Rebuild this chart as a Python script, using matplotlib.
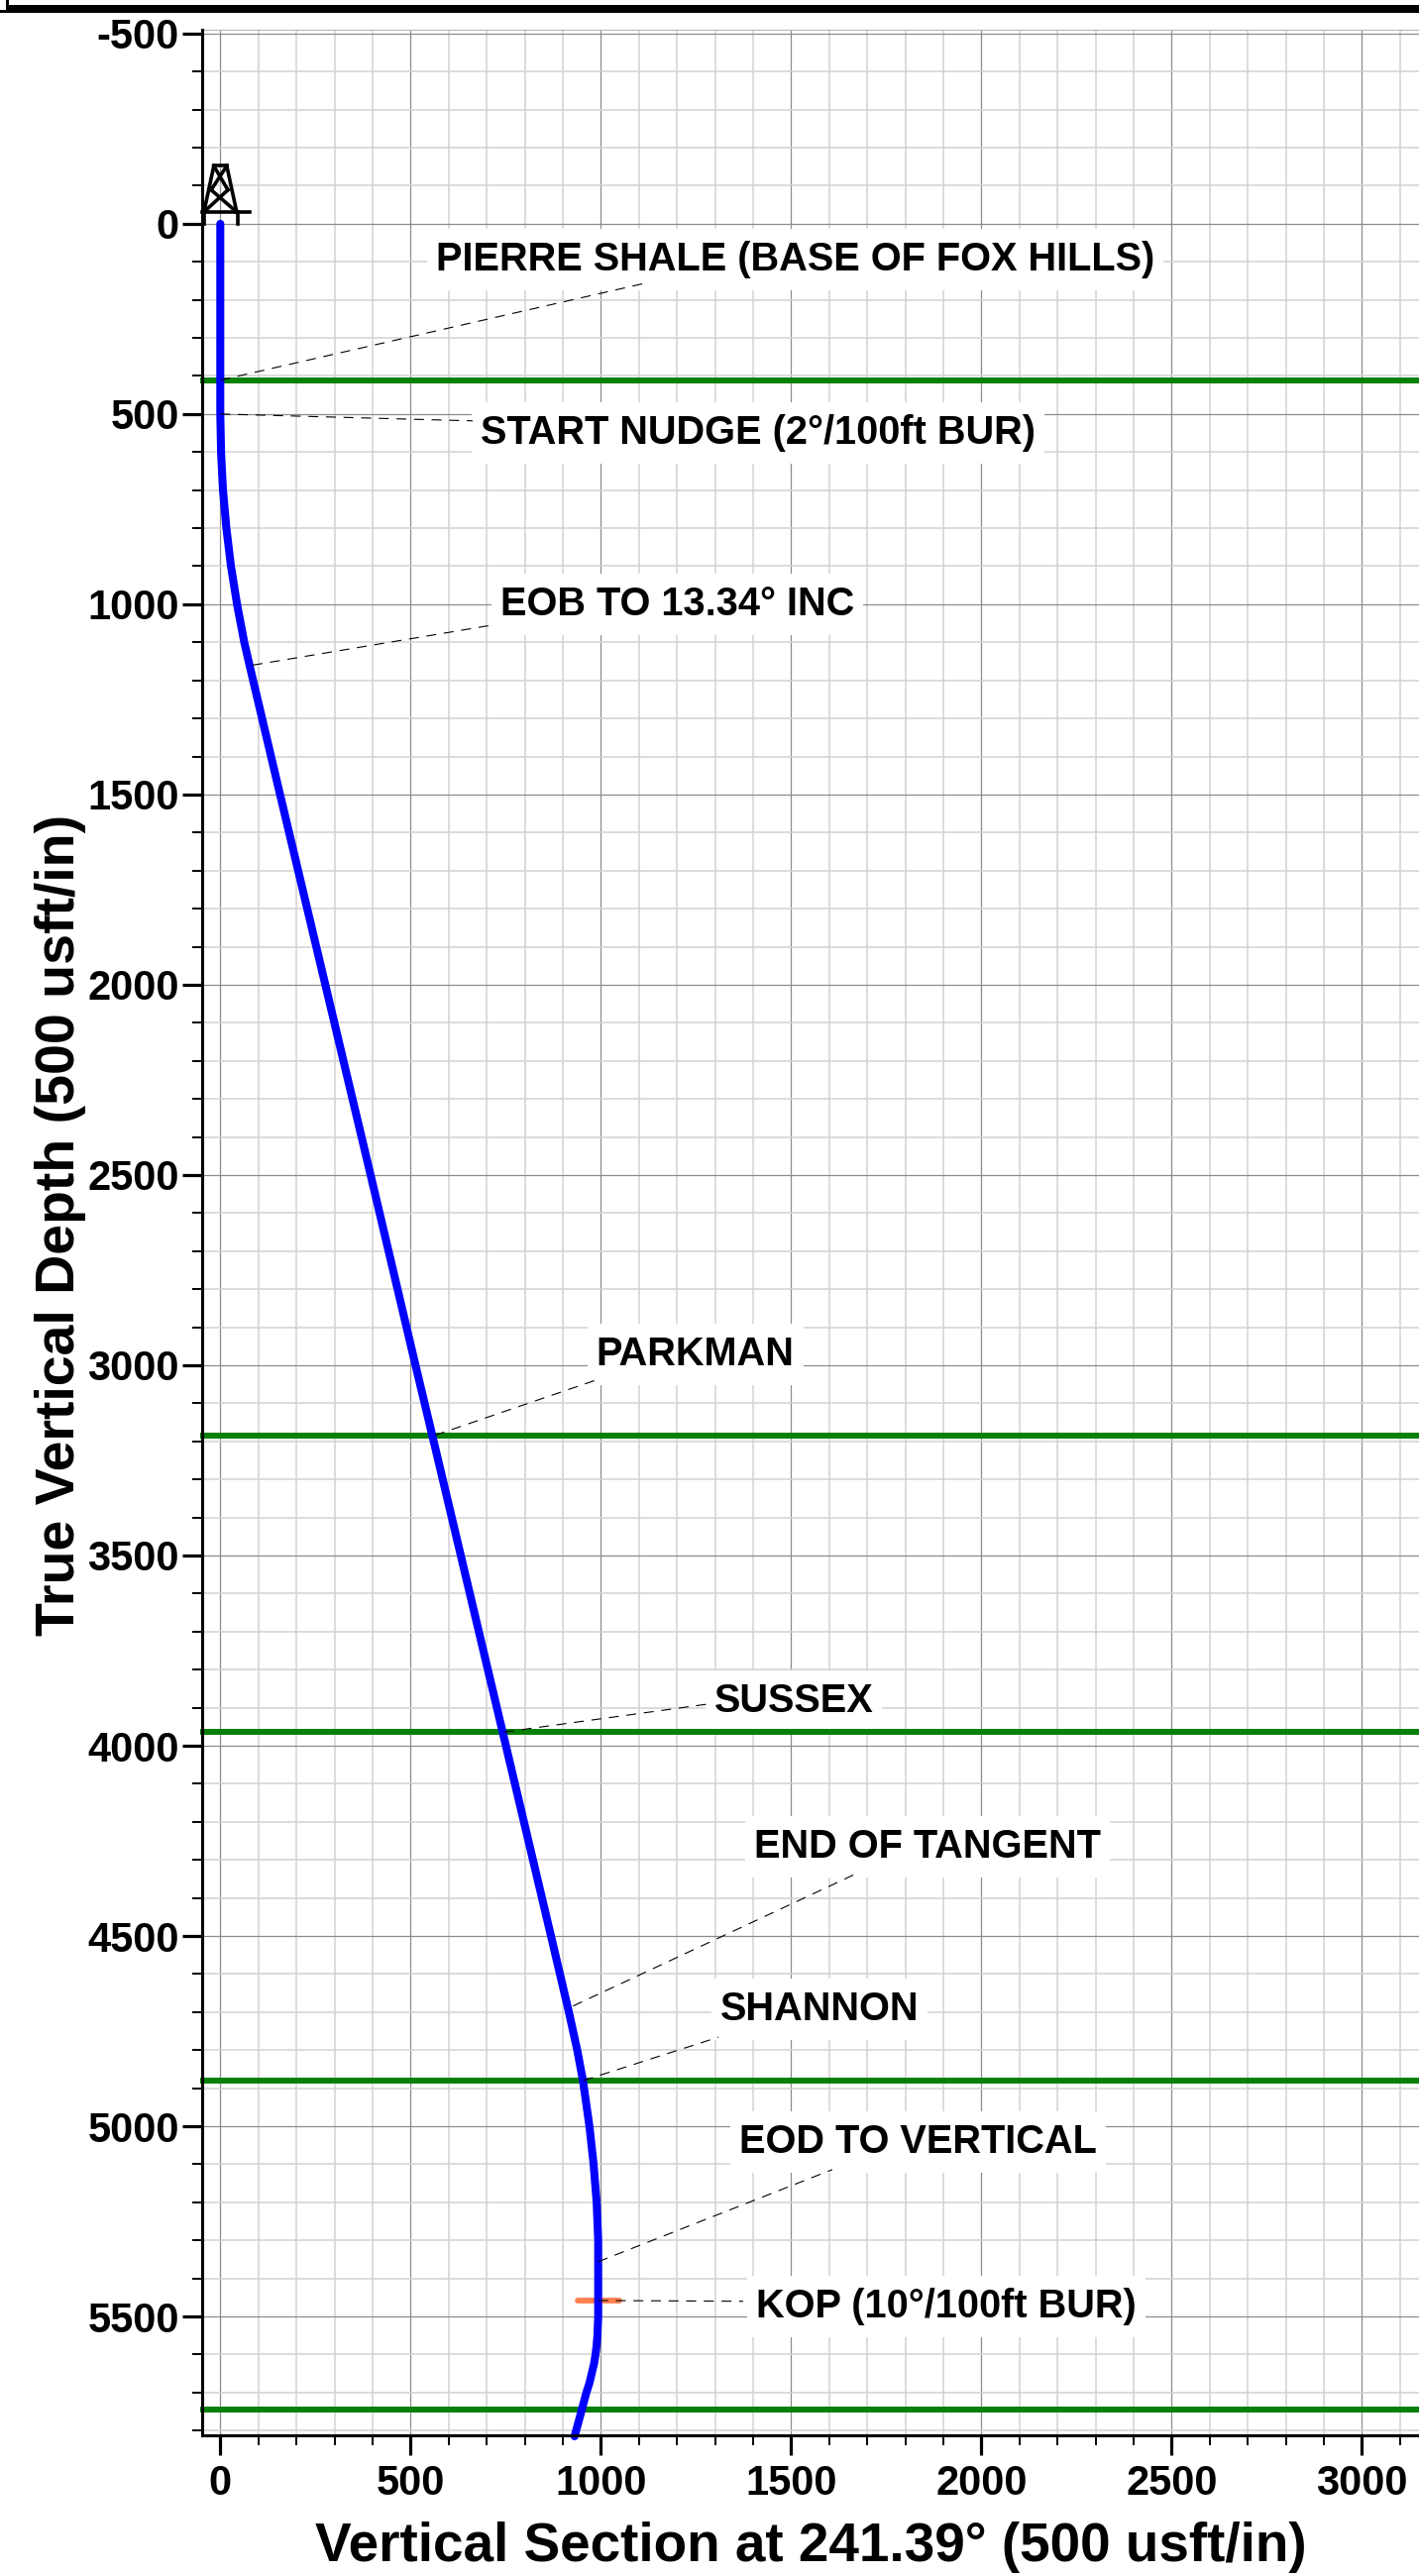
#!/usr/bin/env python3
# Well plan section view: vertical section against true vertical depth

import matplotlib
matplotlib.use("Agg")
import matplotlib.pyplot as plt
from matplotlib.patches import Rectangle
from matplotlib.ticker import MultipleLocator

plt.rcParams['font.family'] = ['Liberation Sans', 'DejaVu Sans']
plt.rcParams['font.weight'] = 'bold'
plt.rcParams['axes.unicode_minus'] = False

# Wellbore path
path_vs = [0, 0, 2, 7, 16, 28, 44, 63, 77, 157, 276, 395, 513, 557, 632, 742,
           869, 916, 938, 953, 970, 981, 989, 993, 993, 993, 993, 992, 991, 989,
           986, 982, 976, 970, 962, 950, 931]
path_tvd = [0, 500, 600, 700, 800, 900, 1000, 1100, 1161, 1500, 2000, 2500,
            3000, 3184, 3500, 3964, 4500, 4700, 4800, 4880, 5000, 5100, 5200,
            5300, 5361, 5450, 5500, 5525, 5550, 5575, 5600, 5625, 5650, 5675,
            5700, 5745, 5815]

# Formation tops
formation_tvd = [411, 3184, 3964, 4880, 5745]

# KOP tick on the path
kop_vs = [939, 1048]
kop_tvd = [5458, 5458]

# Annotations
labels = ["PIERRE SHALE (BASE OF FOX HILLS)", "START NUDGE (2°/100ft BUR)",
          "EOB TO 13.34° INC", "PARKMAN", "SUSSEX", "END OF TANGENT",
          "SHANNON", "EOD TO VERTICAL", "KOP (10°/100ft BUR)"]
label_vs = [1511, 1414, 1201, 1248, 1507, 1859, 1574, 1833, 1907]
label_tvd = [93, 550, 999, 2971, 3882, 4266, 4693, 5042, 5474]
leader_start_vs = [0, 0, 85, 564, 746, 927, 954, 993, 993]
leader_start_tvd = [411, 500, 1160, 3184, 3964, 4684, 4880, 5356, 5458]
leader_end_vs = [1126, 663, 707, 996, 1285, 1665, 1309, 1608, 1374]
leader_end_tvd = [154, 518, 1056, 3036, 3890, 4339, 4766, 5114, 5460]

# Derrick symbol above the surface location
derrick_vs = [(-48, 77), (-43, -17), (43, 17), (-17, 17), (-43, 20),
              (43, -24), (-24, 17), (20, -17), (45, 45), (-43, -43)]
derrick_tvd = [(-31, -31), (-31, -152), (-31, -152), (-152, -152),
               (-31, -89), (-31, -89), (-89, -152), (-89, -152), (-31, 0),
               (-31, 0)]

W, H = 1432, 2600
fig = plt.figure(figsize=(W / 100, H / 100), dpi=100)
ax = fig.add_axes([203.5 / W, 1 - 2457.5 / H, (W - 203.5) / W, (2457.5 - 30) / H])
ax.set_xlim(-49, 3150)
ax.set_ylim(5811, -510)

# Grid
ax.xaxis.set_major_locator(MultipleLocator(500))
ax.xaxis.set_minor_locator(MultipleLocator(100))
ax.yaxis.set_major_locator(MultipleLocator(500))
ax.yaxis.set_minor_locator(MultipleLocator(100))
ax.set_axisbelow(True)
ax.grid(which='minor', color='#d2d2d2', linewidth=1.1, zorder=0)
ax.grid(which='major', color='#8c8c8c', linewidth=0.9, zorder=0.1)

for side in ['left', 'bottom']:
    ax.spines[side].set_linewidth(2.2)
    ax.spines[side].set_zorder(6)
ax.spines['right'].set_visible(False)
ax.spines['top'].set_color('#bbbbbb')
ax.spines['top'].set_linewidth(0.9)

ax.tick_params(which='major', length=14.4, width=2.3, labelsize=30, pad=2)
ax.tick_params(which='minor', length=7.2, width=1.4)
ax.tick_params(axis='x', which='major', pad=7)
ax.set_xticks([v for v in range(0, 3001, 500)])
ax.set_yticks([v for v in range(-500, 5501, 500)])

ax.set_xlabel("Vertical Section at 241.39° (500 usft/in)", fontsize=39.5, fontweight='bold')
ax.xaxis.set_label_coords(0.5005, -(2571 - 2457.5) / (2457.5 - 30))
ax.xaxis.label.set_verticalalignment('center')
ax.set_ylabel("True Vertical Depth (500 usft/in)", fontsize=40, fontweight='bold')
ax.yaxis.set_label_coords(-(203.5 - 61) / (W - 203.5), 0.503)
ax.yaxis.label.set_verticalalignment('center')

# Formation tops run slightly past the left axis
for tvd in formation_tvd:
    ax.plot([-52, 3150], [tvd, tvd], color='#078007', linewidth=4.3,
            solid_capstyle='butt', clip_on=False, zorder=3)

ax.plot(path_vs, path_tvd, color='#0000ff', linewidth=5.8,
        solid_capstyle='round', solid_joinstyle='round', clip_on=False, zorder=4)
ax.plot(kop_vs, kop_tvd, color='#ff8050', linewidth=4.2,
        solid_capstyle='round', zorder=3.5)

for xs, ys in zip(derrick_vs, derrick_tvd):
    ax.plot(xs, ys, color='black', linewidth=2.6, clip_on=False, zorder=5)

# Labels on white boxes, wider vertically than the text
renderer = fig.canvas.get_renderer()
for i, text in enumerate(labels):
    t = ax.text(label_vs[i], label_tvd[i], text, fontsize=28.6, fontweight='bold',
                ha='center', va='center', zorder=2)
    box = t.get_window_extent(renderer)
    ax.add_patch(Rectangle((box.x0 - 9, box.y0 - 12), box.width + 18, box.height + 24,
                           transform=None, facecolor='white', edgecolor='none',
                           zorder=1))
    ax.plot([leader_start_vs[i], leader_end_vs[i]],
            [leader_start_tvd[i], leader_end_tvd[i]],
            color='black', linewidth=0.8, dashes=(9, 7), zorder=5)

# Frame fragment along the top edge of the sheet
for x0, y0, w, h in [(8, 5, W - 8, 8), (6, 0, 3, 13), (0, 10, 8, 3)]:
    fig.add_artist(Rectangle((x0 / W, 1 - (y0 + h) / H), w / W, h / H,
                             transform=fig.transFigure, facecolor='black',
                             edgecolor='none'))

fig.savefig("out.png", dpi=100)
